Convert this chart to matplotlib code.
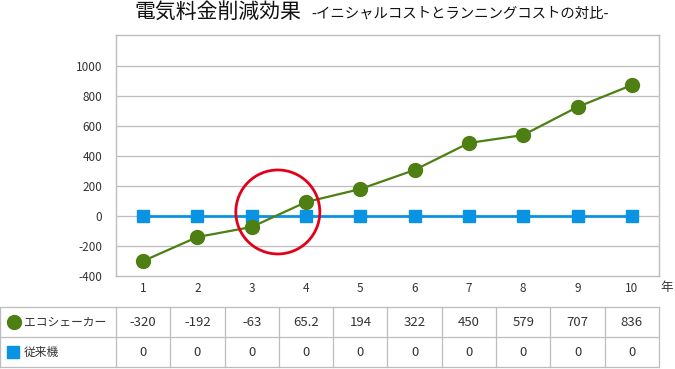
import matplotlib.pyplot as plt
from matplotlib.patches import Ellipse

plt.rcParams['font.family'] = ['Noto Sans CJK JP', 'DejaVu Sans']

years = [1, 2, 3, 4, 5, 6, 7, 8, 9, 10]
# values as plotted on the chart
eco_plot = [-300, -140, -73, 93, 180, 307, 487, 540, 727, 873]
old_plot = [0, 0, 0, 0, 0, 0, 0, 0, 0, 0]
# values as printed in the table
eco_table = ["-320", "-192", "-63", "65.2", "194", "322", "450", "579", "707", "836"]
old_table = ["0", "0", "0", "0", "0", "0", "0", "0", "0", "0"]
row_names = ["エコシェーカー", "従来機"]
yticks = [-400, -200, 0, 200, 400, 600, 800, 1000]

green = "#4e7f12"
blue = "#0a93e2"
grid = "#bdbdbd"
txt = "#333333"

W, H = 675, 369
fig = plt.figure(figsize=(W / 100, H / 100), dpi=100)

# main chart
ax = fig.add_axes([116 / W, 1 - 276 / H, 543 / W, 241 / H])
ax.set_xlim(0.5, 10.5)
ax.set_ylim(-400, 1207)
for v in yticks[1:]:
    ax.axhline(v, color=grid, lw=0.9, zorder=0)
for s in ax.spines.values():
    s.set_color(grid)
    s.set_linewidth(1.0)
ax.plot(years, old_plot, color=blue, lw=2, marker="s", ms=8.5, zorder=3)
ax.plot(years, eco_plot, color=green, lw=1.6, marker="o", ms=10, zorder=4)
ax.set_yticks(yticks)
ax.set_yticklabels([str(v) for v in yticks])
ax.set_xticks(years)
ax.tick_params(length=0, labelsize=8.5, colors=txt)
ax.tick_params(axis="x", pad=4)
ax.tick_params(axis="y", pad=10)
ax.add_patch(Ellipse((3.48, 27), 84 / 54.3, 84 / 0.15, fill=False,
                     ec="#e2001a", lw=2, zorder=5, clip_on=False))
fig.text(660 / W, 1 - 287 / H, "年", fontsize=9, color=txt, ha="left", va="center")

# title
fig.text(134 / W, 1 - 12 / H, "電気料金削減効果", fontsize=15, color="#111111",
         ha="left", va="center")
fig.text(311 / W, 1 - 14 / H, "-イニシャルコストとランニングコストの対比-",
         fontsize=10.4, color="#111111", ha="left", va="center")

# data table
tx = fig.add_axes([0, 1 - 367 / H, 659 / W, 60 / H])
x0 = 0.5 - 116 / 54.3
tx.set_xlim(x0, 10.5)
tx.set_ylim(0, 2)
tx.axis("off")
for y in [0, 1, 2]:
    tx.plot([x0, 10.5], [y, y], color=grid, lw=0.9, clip_on=False)
for xv in [0.5 + i for i in range(11)]:
    tx.plot([xv, xv], [0, 2], color=grid, lw=0.9, clip_on=False)
tx.plot([x0 + 0.005, x0 + 0.005], [0, 2], color=grid, lw=0.9, clip_on=False)
for i, yr in enumerate(years):
    tx.text(yr, 1.5, eco_table[i], ha="center", va="center", fontsize=9.5, color=txt)
    tx.text(yr, 0.5, old_table[i], ha="center", va="center", fontsize=9.5, color=txt)
tx.plot([x0 + 14 / 54.3], [1.5], marker="o", ms=10, color=green, clip_on=False)
tx.plot([x0 + 13 / 54.3], [0.5], marker="s", ms=8, color=blue, clip_on=False)
tx.text(x0 + 24 / 54.3, 1.5, row_names[0], ha="left", va="center", fontsize=8.5, color=txt)
tx.text(x0 + 24 / 54.3, 0.5, row_names[1], ha="left", va="center", fontsize=8.5, color=txt)

fig.savefig("out.png", dpi=100)
